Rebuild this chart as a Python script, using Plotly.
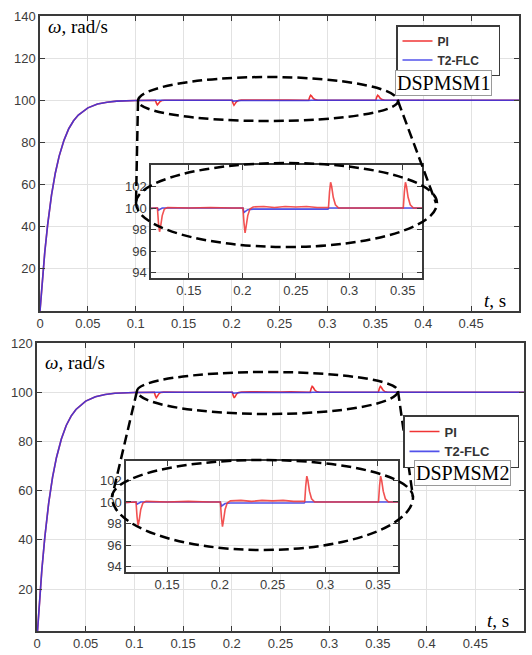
import plotly.graph_objects as go

# ---------------- data ----------------
t_rise = [0, 0.002, 0.005, 0.008, 0.012, 0.016, 0.02, 0.025, 0.03, 0.035, 0.04, 0.05, 0.06, 0.07, 0.08, 0.1]
w_rise = [0, 12.5, 28, 41, 55, 65.5, 73.5, 81, 86.5, 90.3, 93, 96.4, 98.2, 99.1, 99.6, 99.9]

t_pi_ss = [0.12, 0.1205, 0.1215, 0.1225, 0.1235, 0.125, 0.127, 0.13, 0.15, 0.17, 0.19, 0.2,
           0.2005, 0.2015, 0.2025, 0.2035, 0.205, 0.207, 0.21, 0.22, 0.23, 0.24, 0.25, 0.26, 0.27, 0.28,
           0.2805, 0.2815, 0.2825, 0.2835, 0.285, 0.287, 0.29, 0.3, 0.32, 0.34, 0.35,
           0.3505, 0.3515, 0.3525, 0.3535, 0.355, 0.357, 0.36, 0.4, 0.5]
w_pi_ss = [100, 100, 98.6, 97.8, 98.3, 99.3, 99.9, 100.05, 100, 100.05, 100, 100,
           100, 98.6, 97.7, 98.3, 99.3, 99.9, 100.1, 100.15, 100.05, 100.15, 100.1, 100.15, 100.05, 100.05,
           100, 101.5, 102.4, 102.0, 101.0, 100.3, 100, 100, 100, 100, 100,
           100, 101.5, 102.4, 102.0, 101.0, 100.3, 100, 100, 100]

t_flc_ss = [0.12, 0.1205, 0.1215, 0.123, 0.125, 0.2, 0.2005, 0.2015, 0.203, 0.205, 0.21, 0.28, 0.281, 0.283, 0.5]
w_flc_ss = [100, 100, 99.8, 99.9, 100, 100, 100, 99.6, 99.7, 99.85, 99.9, 99.9, 100, 100, 100]

main_yticks_top = [20, 40, 60, 80, 100, 120, 140]
main_yticks_bot = [20, 40, 60, 80, 100, 120]
main_xticks_top = [0, 0.05, 0.1, 0.15, 0.2, 0.25, 0.3, 0.35, 0.4, 0.45]
main_xticks_bot = [0, 0.05, 0.1, 0.15, 0.2, 0.25, 0.3, 0.35, 0.4, 0.45, 0.5]
inset_xticks = [0.15, 0.2, 0.25, 0.3, 0.35]
inset_yticks = [94, 96, 98, 100, 102]

series_names = ["PI", "T2-FLC"]
panel_labels = ["DSPMSM1", "DSPMSM2"]

# ---------------- layout helpers ----------------
W, H = 532, 655


def fx(p):
    return p / W


def fy(p):
    return 1 - p / H


t_pi = t_rise + t_pi_ss
w_pi = w_rise + w_pi_ss
t_flc = t_rise + t_flc_ss
w_flc = w_rise + w_flc_ss

RED = "#f03434"
BLUE = "#3434e6"
# invisible spacer that widens the legend box like the reference
PAD_TOP = "<span style='color:rgba(0,0,0,0)'>__</span>"
PAD_BOT = "<span style='color:rgba(0,0,0,0)'>___</span>"

fig = go.Figure()

# main top (x, y)
fig.add_trace(go.Scatter(x=t_pi, y=w_pi, mode="lines", name=series_names[0], line=dict(color=RED, width=1.6),
                         xaxis="x", yaxis="y", legend="legend"))
fig.add_trace(go.Scatter(x=t_flc, y=w_flc, mode="lines", name=series_names[1] + PAD_TOP,
                         line=dict(color=BLUE, width=1.6),
                         opacity=0.85, xaxis="x", yaxis="y", legend="legend"))
# inset top (x2, y2)
fig.add_trace(go.Scatter(x=t_flc, y=w_flc, mode="lines", line=dict(color=BLUE, width=1.6), opacity=0.85,
                         xaxis="x2", yaxis="y2", showlegend=False))
fig.add_trace(go.Scatter(x=t_pi, y=w_pi, mode="lines", line=dict(color=RED, width=1.6), opacity=0.85,
                         xaxis="x2", yaxis="y2", showlegend=False))
# main bottom (x3, y3)
fig.add_trace(go.Scatter(x=t_pi, y=w_pi, mode="lines", name=series_names[0], line=dict(color=RED, width=1.6),
                         xaxis="x3", yaxis="y3", legend="legend2"))
fig.add_trace(go.Scatter(x=t_flc, y=w_flc, mode="lines", name=series_names[1] + PAD_BOT,
                         line=dict(color=BLUE, width=1.6),
                         opacity=0.85, xaxis="x3", yaxis="y3", legend="legend2"))
# inset bottom (x4, y4)
fig.add_trace(go.Scatter(x=t_flc, y=w_flc, mode="lines", line=dict(color=BLUE, width=1.6), opacity=0.85,
                         xaxis="x4", yaxis="y4", showlegend=False))
fig.add_trace(go.Scatter(x=t_pi, y=w_pi, mode="lines", line=dict(color=RED, width=1.6), opacity=0.85,
                         xaxis="x4", yaxis="y4", showlegend=False))

TICKFONT = dict(family="Liberation Sans, Arial", size=13, color="#3c3c3c")


def ax(domain_px, rng, tickvals, anchor, horizontal=True):
    if horizontal:
        dom = [fx(domain_px[0]), fx(domain_px[1])]
    else:
        dom = [fy(domain_px[1]), fy(domain_px[0])]
    return dict(domain=dom, range=rng, tickvals=tickvals, anchor=anchor,
                showline=True, linecolor="#3a3a3a", linewidth=1.5, mirror="ticks",
                ticks="inside", ticklen=5, tickwidth=1.2, tickcolor="#3a3a3a",
                showgrid=True, gridcolor="#e2e2e2", gridwidth=1, zeroline=False,
                tickfont=TICKFONT, fixedrange=True, automargin=False)


fig.update_layout(
    width=W, height=H,
    margin=dict(l=0, r=0, t=0, b=0, pad=0, autoexpand=False),
    paper_bgcolor="white", plot_bgcolor="white",
    xaxis=ax((40, 519), [0, 0.5], main_xticks_top, "y"),
    yaxis=ax((16, 311), [0, 140], main_yticks_top, "x", horizontal=False),
    xaxis2=ax((151, 422), [0.1145, 0.368], inset_xticks, "y2"),
    yaxis2=ax((165, 278), [93.5, 104], inset_yticks, "x2", horizontal=False),
    xaxis3=ax((37, 524), [0, 0.5], main_xticks_bot, "y3"),
    yaxis3=ax((343, 631), [3, 120], main_yticks_bot, "x3", horizontal=False),
    xaxis4=ax((126, 398), [0.111, 0.369], inset_xticks, "y4"),
    yaxis4=ax((461, 572), [93.5, 103.8], inset_yticks, "x4", horizontal=False),
    legend=dict(x=fx(396), y=fy(25), xanchor="left", yanchor="top", bgcolor="white",
                bordercolor="#3a3a3a", borderwidth=1.5,
                font=dict(family="Liberation Sans, Arial", size=12, color="#333333", weight="bold"),
                tracegroupgap=0, itemwidth=30),
    legend2=dict(x=fx(403), y=fy(415), xanchor="left", yanchor="top", bgcolor="white",
                 bordercolor="#3a3a3a", borderwidth=1.5,
                 font=dict(family="Liberation Sans, Arial", size=13, color="#333333", weight="bold"),
                 tracegroupgap=0, itemwidth=30),
    showlegend=True,
)


# ---------------- decorations: dashed zoom ellipses ----------------
def P(x, y):
    return f"{fx(x):.5f},{fy(y):.5f}"


def ellipse(left, right, cy, bt, bb):
    cx = (left + right) / 2
    a = (right - left) / 2
    k = 0.5523
    return (f"M {P(left, cy)} "
            f"C {P(left, cy - k * bt)} {P(cx - k * a, cy - bt)} {P(cx, cy - bt)} "
            f"C {P(cx + k * a, cy - bt)} {P(right, cy - k * bt)} {P(right, cy)} "
            f"C {P(right, cy + k * bb)} {P(cx + k * a, cy + bb)} {P(cx, cy + bb)} "
            f"C {P(cx - k * a, cy + bb)} {P(left, cy + k * bb)} {P(left, cy)} Z")


DASH = dict(color="black", width=2.5, dash="10px,5px")
shapes = []
for path in [ellipse(138, 398, 101, 24, 20), ellipse(136, 437, 203, 40, 44),
             ellipse(137, 398, 391, 19, 23), ellipse(112, 413, 497, 37, 53)]:
    shapes.append(dict(type="path", path=path, xref="paper", yref="paper", line=DASH, layer="above"))
for (x0, y0, x1, y1) in [(138, 101, 136, 203), (398, 101, 436, 203), (137, 391, 112, 497), (398, 391, 413, 497)]:
    shapes.append(dict(type="line", xref="paper", yref="paper", x0=fx(x0), y0=fy(y0), x1=fx(x1), y1=fy(y1),
                       line=DASH, layer="above"))
fig.update_layout(shapes=shapes)

SERIF = "Liberation Serif, Times New Roman, serif"
annotations = [
    dict(text="<i>ω</i>, rad/s", x=fx(46), y=fy(26), xanchor="left", yanchor="middle"),
    dict(text="<i>ω</i>, rad/s", x=fx(43), y=fy(362), xanchor="left", yanchor="middle"),
    dict(text="<i>t</i>, s", x=fx(508), y=fy(301), xanchor="right", yanchor="middle"),
    dict(text="<i>t</i>, s", x=fx(511), y=fy(620), xanchor="right", yanchor="middle"),
]
for a in annotations:
    a.update(xref="paper", yref="paper", showarrow=False, font=dict(family=SERIF, size=19, color="black"))
annotations.append(dict(text=panel_labels[0], x=fx(395), y=fy(70), xanchor="left", yanchor="top",
                        xref="paper", yref="paper", showarrow=False, bgcolor="white", bordercolor="#9a9a9a",
                        borderwidth=1, borderpad=1, font=dict(family=SERIF, size=20, color="black")))
annotations.append(dict(text=panel_labels[1], x=fx(414), y=fy(460), xanchor="left", yanchor="top",
                        xref="paper", yref="paper", showarrow=False, bgcolor="white", bordercolor="#9a9a9a",
                        borderwidth=1, borderpad=1, font=dict(family=SERIF, size=20, color="black")))
fig.update_layout(annotations=annotations)

fig.write_html("out.html", config={"displayModeBar": False},
               post_script="document.body.style.margin='0';document.body.style.padding='0';"
                           "document.body.style.overflow='hidden';")
